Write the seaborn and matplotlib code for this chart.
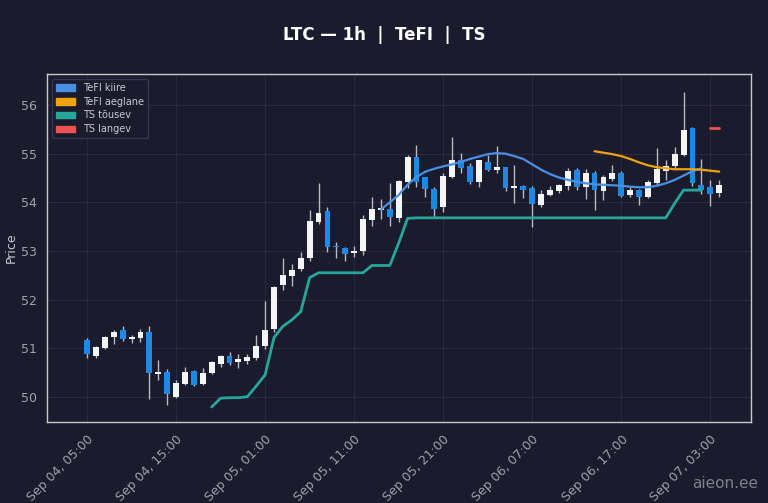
import numpy as np
import pandas as pd
import matplotlib
matplotlib.use("Agg")
import matplotlib.pyplot as plt
import matplotlib.dates as mdates
from matplotlib.patches import Patch
import seaborn as sns

# candle data, hourly from Sep 04 05:00
opens = [51.16, 50.84, 51.01, 51.22, 51.37, 51.18, 51.20, 51.34, 50.46, 50.50,
         49.99, 50.26, 50.53, 50.26, 50.48, 50.67, 50.84, 50.71, 50.74, 50.79,
         51.04, 51.40, 52.30, 52.49, 52.62, 52.85, 53.60, 53.82, 53.09, 53.05,
         52.95, 53.00, 53.63, 53.84, 53.86, 53.68, 54.42, 54.94, 54.51, 54.27,
         53.91, 54.53, 54.86, 54.75, 54.42, 54.83, 54.66, 54.73, 54.30, 54.34,
         54.29, 53.94, 54.15, 54.24, 54.33, 54.66, 54.31, 54.61, 54.24, 54.47,
         54.61, 54.15, 54.25, 54.10, 54.40, 54.65, 54.75, 54.97, 55.52, 54.35,
         54.31, 54.19]
highs = [51.21, 51.05, 51.25, 51.37, 51.46, 51.28, 51.40, 51.46, 50.75, 50.58,
         50.34, 50.62, 50.55, 50.59, 50.73, 50.86, 50.91, 50.88, 50.88, 51.26,
         51.97, 52.28, 52.86, 52.74, 52.98, 53.85, 54.39, 53.91, 53.19, 53.09,
         53.10, 53.74, 54.10, 54.06, 54.40, 54.46, 54.98, 55.18, 54.53, 54.32,
         54.60, 55.35, 55.02, 54.80, 54.88, 54.98, 55.16, 54.73, 54.77, 54.36,
         54.34, 54.26, 54.34, 54.38, 54.70, 54.70, 54.68, 54.65, 54.56, 54.77,
         54.65, 54.32, 54.28, 54.45, 55.11, 54.88, 55.14, 56.27, 55.55, 54.90,
         54.46, 54.46]
lows = [50.79, 50.80, 50.99, 51.08, 51.15, 51.10, 51.12, 49.96, 50.34, 49.83,
        49.98, 50.24, 50.23, 50.24, 50.46, 50.62, 50.66, 50.60, 50.68, 50.76,
        50.99, 51.34, 52.19, 52.28, 52.58, 52.80, 53.55, 52.98, 52.85, 52.80,
        52.88, 52.91, 53.51, 53.65, 53.51, 53.60, 54.30, 54.32, 54.10, 53.70,
        53.80, 54.50, 54.61, 54.38, 54.31, 54.64, 54.60, 54.24, 53.98, 54.08,
        53.50, 53.91, 54.12, 54.20, 54.26, 54.26, 54.07, 53.85, 54.05, 54.44,
        54.10, 54.10, 53.94, 54.08, 54.36, 54.45, 54.68, 54.95, 54.33, 54.18,
        53.92, 54.10]
closes = [50.88, 51.03, 51.23, 51.34, 51.19, 51.23, 51.34, 50.48, 50.51, 50.05,
          50.29, 50.51, 50.25, 50.49, 50.71, 50.84, 50.70, 50.77, 50.82, 51.04,
          51.38, 52.26, 52.50, 52.61, 52.85, 53.61, 53.77, 53.07, 53.07, 52.93,
          53.00, 53.66, 53.87, 53.88, 53.69, 54.44, 54.94, 54.42, 54.27, 53.87,
          54.55, 54.87, 54.71, 54.42, 54.87, 54.66, 54.73, 54.29, 54.33, 54.25,
          53.97, 54.18, 54.26, 54.35, 54.64, 54.31, 54.61, 54.25, 54.51, 54.61,
          54.12, 54.25, 54.10, 54.42, 54.68, 54.75, 54.99, 55.49, 54.39, 54.25,
          54.17, 54.35]

# indicator lines (start index into candles, values)
tefi_fast_start = 33
tefi_fast = [53.85, 54.00, 54.15, 54.36, 54.52, 54.63, 54.69, 54.74, 54.78, 54.83,
             54.89, 54.94, 54.99, 55.01, 55.00, 54.95, 54.89, 54.78, 54.67, 54.58,
             54.51, 54.46, 54.42, 54.39, 54.37, 54.36, 54.35, 54.34, 54.32, 54.31,
             54.31, 54.34, 54.39, 54.46, 54.55, 54.64, 54.70]
tefi_slow_start = 57
tefi_slow = [55.05, 55.02, 54.99, 54.95, 54.89, 54.82, 54.76, 54.72, 54.70, 54.68,
             54.68, 54.68, 54.67, 54.65, 54.63]
ts_up_start = 14
ts_up = [49.79, 49.97, 49.98, 49.98, 50.00, 50.22, 50.45, 51.22, 51.45, 51.58,
         51.75, 52.45, 52.55, 52.55, 52.55, 52.55, 52.55, 52.55, 52.70, 52.70,
         52.70, 53.16, 53.67, 53.68, 53.68, 53.68, 53.68, 53.68, 53.68, 53.68,
         53.68, 53.68, 53.68, 53.68, 53.68, 53.68, 53.68, 53.68, 53.68, 53.68,
         53.68, 53.68, 53.68, 53.68, 53.68, 53.68, 53.68, 53.68, 53.68, 53.68,
         53.68, 53.68, 53.98, 54.25, 54.25, 54.25]
ts_down_start = 70
ts_down = [55.53, 55.53]

bg = '#1b1b2e'
up_col = '#f5f5f5'
down_col = '#1e88e5'
wick_col = '#b8b8c0'
fast_col = '#4a90e2'
slow_col = '#f0a30a'
green_col = '#26a69a'
red_col = '#ef5350'
text_col = '#c8c8d0'

sns.set_style("dark", {'axes.facecolor': bg, 'figure.facecolor': bg})
plt.rcParams['font.family'] = ['DejaVu Sans']

times = pd.date_range('2025-09-04 05:00', periods=len(opens), freq='h')
df = pd.DataFrame({'time': times, 'open': opens, 'high': highs,
                   'low': lows, 'close': closes})
df['up'] = df['close'] >= df['open']

fig = plt.figure(figsize=(7.68, 5.03), dpi=100)
fig.patch.set_facecolor(bg)
ax = fig.add_axes([0.0612, 0.161, 0.917, 0.692])
ax.set_facecolor(bg)

# wicks
ax.vlines(df['time'], df['low'], df['high'], color=wick_col, linewidth=1.0, zorder=2)

# bodies
w = 0.66 / 24
body_h = (df['close'] - df['open']).abs().clip(lower=0.025)
body_b = df[['open', 'close']].min(axis=1)
cols = np.where(df['up'], up_col, down_col)
ax.bar(df['time'], body_h, bottom=body_b, width=w, color=cols, zorder=3, linewidth=0)


def seg(start, vals):
    return pd.DataFrame({'time': times[start:start + len(vals)], 'val': vals})


sns.lineplot(data=seg(tefi_fast_start, tefi_fast), x='time', y='val', ax=ax,
             color=fast_col, linewidth=1.6, zorder=4)
sns.lineplot(data=seg(tefi_slow_start, tefi_slow), x='time', y='val', ax=ax,
             color=slow_col, linewidth=1.6, zorder=4)
sns.lineplot(data=seg(ts_up_start, ts_up), x='time', y='val', ax=ax,
             color=green_col, linewidth=2.0, zorder=4)
sns.lineplot(data=seg(ts_down_start, ts_down), x='time', y='val', ax=ax,
             color=red_col, linewidth=2.0, zorder=4)

# axes formatting
x0 = times[0] - pd.Timedelta(hours=4.5)
x1 = times[0] + pd.Timedelta(hours=74.6)
ax.set_xlim(x0, x1)
ax.set_ylim(49.48, 56.64)
ax.set_yticks([50, 51, 52, 53, 54, 55, 56])
ax.set_xticks(pd.date_range('2025-09-04 05:00', periods=8, freq='10h'))
ax.xaxis.set_major_formatter(mdates.DateFormatter('%b %d, %H:%M'))
plt.setp(ax.get_xticklabels(), rotation=45, ha='right', rotation_mode='anchor')
ax.tick_params(axis='both', colors=text_col, labelsize=9, length=4, width=0.8)
ax.tick_params(axis='x', labelcolor='#a0a0ae')
ax.tick_params(axis='y', labelcolor='#a0a0ae')
ax.grid(True, color='#2c2c44', linewidth=0.6)
for s in ax.spines.values():
    s.set_color('#c8c8d0')
    s.set_linewidth(1.0)
ax.set_xlabel('')
ax.set_ylabel('Price', color=text_col, fontsize=9, labelpad=2)

fig.text(0.5, 0.930, 'LTC — 1h  |  TeFI  |  TS', color='white', fontsize=12,
         fontweight='bold', ha='center', va='center')

handles = [Patch(color=fast_col, label='TeFI kiire'),
           Patch(color=slow_col, label='TeFI aeglane'),
           Patch(color=green_col, label='TS tõusev'),
           Patch(color=red_col, label='TS langev')]
leg = ax.legend(handles=handles, loc='upper left', fontsize=7,
                facecolor=bg, edgecolor='#3a3a55', labelcolor=text_col,
                framealpha=0.9, handlelength=2.0, borderpad=0.4,
                labelspacing=0.4)

fig.text(0.944, 0.038, 'aieon.ee', color='#8a8a98', fontsize=11,
         ha='center', va='center', alpha=0.9)

plt.savefig('out.png', dpi=100, facecolor=bg)
